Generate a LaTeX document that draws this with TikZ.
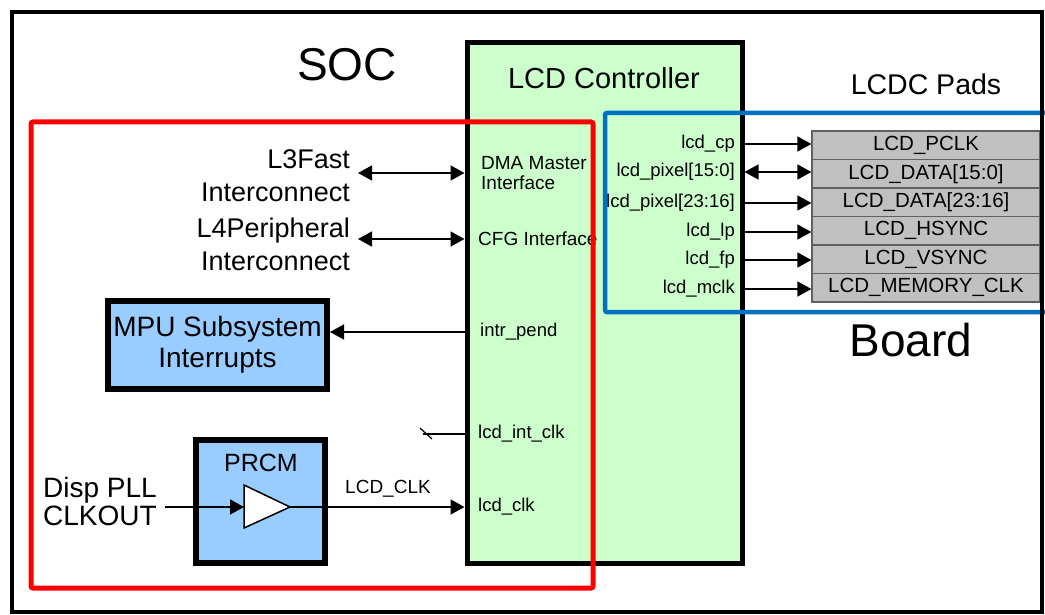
\documentclass[tikz,border=0pt]{standalone}
\usepackage{fontspec}
\setmainfont{Liberation Sans}
\usetikzlibrary{arrows.meta}
\definecolor{ctrlgreen}{HTML}{CCFFCC}
\definecolor{blockblue}{HTML}{99CCFF}
\definecolor{padgray}{HTML}{C0C0C0}
\definecolor{padedge}{HTML}{606060}
\definecolor{socred}{HTML}{FF0000}
\definecolor{boardblue}{HTML}{0070C0}
\tikzset{
  ctrlbox/.style={draw, line width=5pt, fill=ctrlgreen, inner sep=0pt},
  block/.style={draw, line width=6pt, fill=blockblue, inner sep=0pt},
  padbox/.style={draw=padedge, line width=1.2pt, fill=padgray, inner sep=0pt,
    minimum width=228pt, minimum height=28.5pt, font=\fontsize{20.5}{24}\selectfont},
  portlabel/.style={inner sep=0pt, font=\fontsize{18.5}{20}\selectfont},
  biglabel/.style={inner sep=0pt, font=\fontsize{27}{33}\selectfont},
  huge label/.style={inner sep=0pt, font=\fontsize{46}{50}\selectfont},
  wire/.style={line width=1.5pt, -{Triangle[length=14pt,width=15pt]}},
  dblwire/.style={line width=1.5pt, {Triangle[length=14pt,width=15pt]}-{Triangle[length=14pt,width=15pt]}}
}

\begin{document}
\begin{tikzpicture}[x=1pt, y=-1pt]
  \useasboundingbox (0,0) rectangle (1045,615);

  % LCD controller
  \node[ctrlbox, minimum width=275pt, minimum height=520pt] (ctrl) at (604.5,303) {};
  \node[biglabel, font=\fontsize{29}{33}\selectfont] (ctrltitle) at (604,78) {LCD Controller};
  \node[portlabel, anchor=west, align=left, font=\fontsize{19}{20}\selectfont] (dma) at (481,173) {DMA Master\\Interface};
  \node[portlabel, anchor=west, font=\fontsize{19}{20}\selectfont] (cfg) at (478,239) {CFG Interface};
  \node[portlabel, anchor=west] (intr) at (480,332) {intr\_pend};
  \node[portlabel, anchor=west] (intclk) at (478,434) {lcd\_int\_clk};
  \node[portlabel, anchor=west] (lcdclkin) at (478,507) {lcd\_clk};

  \node[portlabel, anchor=east] (lblcp) at (735,144) {lcd\_cp};
  \node[portlabel, anchor=east] (lblpix) at (735,172) {lcd\_pixel[15:0]};
  \node[portlabel, anchor=east] (lblpixhi) at (735,203) {lcd\_pixel[23:16]};
  \node[portlabel, anchor=east] (lbllp) at (735,232) {lcd\_lp};
  \node[portlabel, anchor=east] (lblfp) at (735,260) {lcd\_fp};
  \node[portlabel, anchor=east] (lblmclk) at (735,289) {lcd\_mclk};

  % pads
  \node[huge label, font=\fontsize{28.5}{33}\selectfont] (padtitle) at (926,84) {LCDC Pads};
  \node[padbox] (pclk) at (926,145.25) {LCD\_PCLK};
  \node[padbox] (data) at (926,173.75) {LCD\_DATA[15:0]};
  \node[padbox] (datahi) at (926,202.25) {LCD\_DATA[23:16]};
  \node[padbox] (hsync) at (926,230.75) {LCD\_HSYNC};
  \node[padbox] (vsync) at (926,259.25) {LCD\_VSYNC};
  \node[padbox] (mclk) at (926,287.75) {LCD\_MEMORY\_CLK};

  \draw[wire] (ctrl.east |- lblcp) -- (pclk.west |- lblcp);
  \draw[dblwire] (ctrl.east |- lblpix) -- (data.west |- lblpix);
  \draw[wire] (ctrl.east |- lblpixhi) -- (datahi.west |- lblpixhi);
  \draw[wire] (ctrl.east |- lbllp) -- (hsync.west |- lbllp);
  \draw[wire] (ctrl.east |- lblfp) -- (vsync.west |- lblfp);
  \draw[wire] (ctrl.east |- lblmclk) -- (mclk.west |- lblmclk);

  % SOC side
  \node[huge label] (soc) at (347,65) {SOC};
  \node[biglabel, anchor=north east, align=right] (l3) at (350,149) {L3Fast\\Interconnect};
  \node[biglabel, anchor=north east, align=right] (l4) at (350,218) {L4Peripheral\\Interconnect};
  \draw[dblwire] ([xshift=8pt]l3.east |- dma.west) -- (ctrl.west |- dma.west);
  \draw[dblwire] ([xshift=8pt]l4.east |- cfg.west) -- (ctrl.west |- cfg.west);

  \node[block, minimum width=219pt, minimum height=88pt, align=center,
    font=\fontsize{28}{31}\selectfont] (mpu) at (217.5,345) {MPU Subsystem\\Interrupts};
  \draw[wire] (ctrl.west |- intr.west) -- (mpu.east |- intr.west);

  \coordinate (intstub) at (423,434);
  \draw[line width=1.5pt] (ctrl.west |- intclk.west) -- (intstub);
  \draw[line width=1.2pt] ([shift={(-3,-6)}]intstub) -- ([shift={(9,5)}]intstub);

  % PRCM with clock buffer
  \node[block, minimum width=129pt, minimum height=123pt] (prcm) at (260.5,501.5) {};
  \node[biglabel, font=\fontsize{25}{30}\selectfont] (prcmtitle) at (261,463) {PRCM};
  \coordinate (bufin) at (244,507);
  \coordinate (bufout) at (290,507);
  \draw[line width=1.5pt, fill=white] (bufin) ++(0,-22) -- (bufout) -- ([yshift=-21pt]bufin) -- cycle;
  \node[biglabel, anchor=north west, align=left, font=\fontsize{28}{28}\selectfont] (pll) at (43,477) {Disp PLL\\CLKOUT};
  \draw[wire] ([xshift=8pt]pll.east |- bufin) -- (bufin);
  \draw[wire] (bufout) -- (ctrl.west |- bufout);
  \node[portlabel, anchor=base, font=\fontsize{19}{20}\selectfont] (lcdclk) at (388,493) {LCD\_CLK};

  % SOC / Board regions
  \draw[socred, line width=5pt, rounded corners=2pt] (31,122) rectangle (593,588);
  \draw[boardblue, line width=4.5pt, rounded corners=2pt] (605,113) rectangle (1050,312);
  \node[huge label] (board) at (911,340) {Board};

  \draw[line width=4pt] (12,12) rectangle (1042,612);
\end{tikzpicture}
\end{document}
